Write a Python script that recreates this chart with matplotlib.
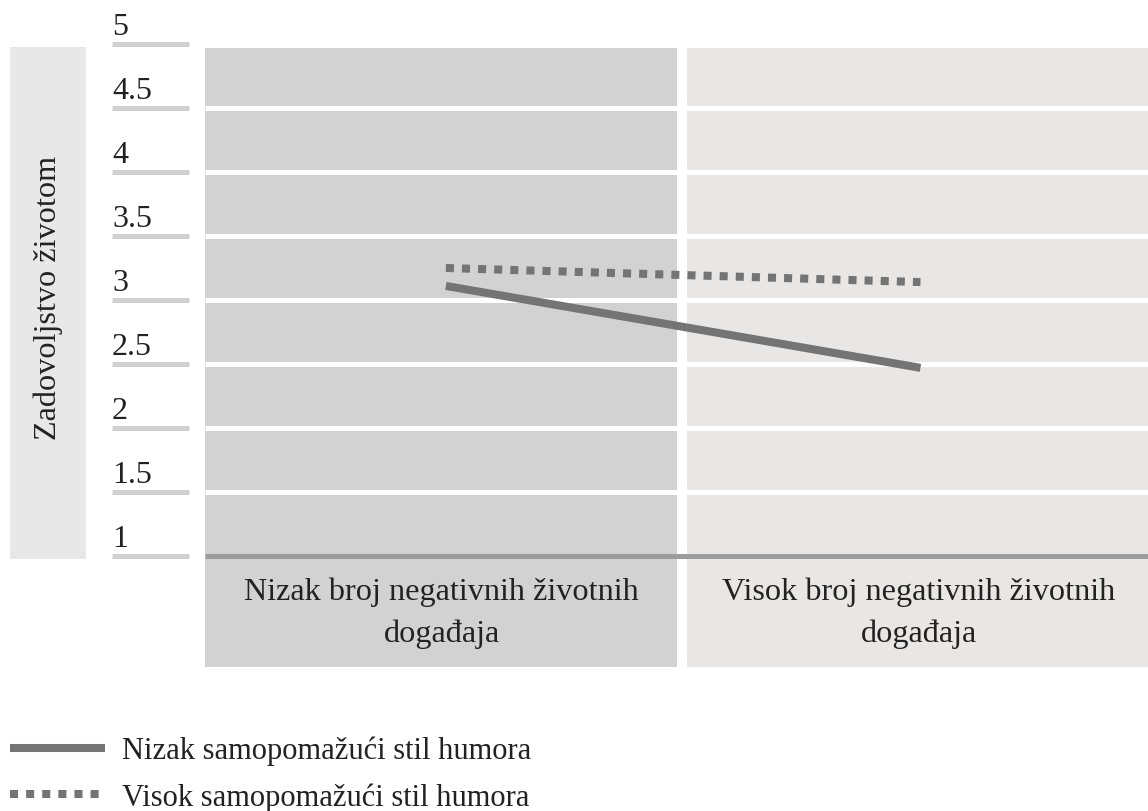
import matplotlib.pyplot as plt
from matplotlib.patches import Rectangle

# data
categories = ["Nizak broj negativnih životnih\ndogađaja",
              "Visok broj negativnih životnih\ndogađaja"]
nizak_humor = [3.11, 2.47]
visok_humor = [3.25, 3.14]
y_ticks = [1, 1.5, 2, 2.5, 3, 3.5, 4, 4.5, 5]
y_tick_labels = ["1", "1.5", "2", "2.5", "3", "3.5", "4", "4.5", "5"]
series_names = ["Nizak samopomažući stil humora", "Visok samopomažući stil humora"]

plt.rcParams['font.family'] = ['Liberation Serif', 'DejaVu Serif']
FS = 23
W, H = 1148, 812

fig = plt.figure(figsize=(W / 100, H / 100), dpi=100)
# axes spans from value 5 (y=45px) down to bottom of category boxes (y=668px)
ax = fig.add_axes([205 / W, 1 - 668 / H, 943 / W, (668 - 45) / H])
ylo = 1 - (668 - 557) / 128
ax.set_ylim(ylo, 5)
ax.set_xlim(-0.5, 1.477)
ax.axis('off')

dark = '#d3d2d3'
light = '#e8e7e6'
gap = 0.0115
ax.add_patch(Rectangle((-0.5, ylo), 1 - gap, 4.97 - ylo, color=dark, lw=0, zorder=0))
ax.add_patch(Rectangle((0.5 + gap, ylo), 1.2, 4.97 - ylo, color=light, lw=0, zorder=0))

# white gridlines
ax.hlines(y_ticks[1:-1], -0.5, 1.6, color='white', lw=3.6, zorder=1)
# bottom axis line
ax.hlines(1, -0.5, 1.6, color='#9b9b9b', lw=3.6, zorder=2)

# tick marks + labels off to the left
ytr = ax.get_yaxis_transform()
x0 = (112 - 205) / 943
x1 = (189 - 205) / 943
ax.hlines(y_ticks, x0, x1, color='#d0d0d0', lw=3.6, transform=ytr, clip_on=False)
for v, lab in zip(y_ticks, y_tick_labels):
    ax.annotate(lab, (x0, v), xycoords=ytr, xytext=(0, 7.5), textcoords='offset points',
                ha='left', va='baseline', fontsize=FS, color='#222222')

# data lines
ax.plot([0.005, 1], nizak_humor, color='#747474', lw=5.8, solid_capstyle='butt',
        zorder=3, label=series_names[0])
ax.plot([0.005, 1], visok_humor, color='#747474', lw=5.8, linestyle=(0, (1, 1)),
        dash_capstyle='butt', zorder=3, label=series_names[1])

# category labels inside the panels
for i, c in enumerate(categories):
    ax.text(i - 0.004, 1 - (613 - 557) / 128, c, ha='center', va='center',
            fontsize=23.2, color='#222222', linespacing=1.56)

# y-axis title box
fig.patches.append(Rectangle((10 / W, 1 - 560 / H), 76 / W, 512 / H,
                             transform=fig.transFigure, color='#e8e8e8', lw=0))
fig.text(48 / W, 1 - 298 / H, "Zadovoljstvo životom", rotation=90,
         ha='center', va='center', fontsize=23.2, color='#222222')

fig.legend(loc='upper left', bbox_to_anchor=(10 / W, 1 - 737 / H),
           frameon=False, fontsize=22, handlelength=3.1, handletextpad=0.56,
           labelspacing=0.55, borderpad=0, borderaxespad=0, labelcolor='#222222')

fig.savefig('out.png', dpi=100)
